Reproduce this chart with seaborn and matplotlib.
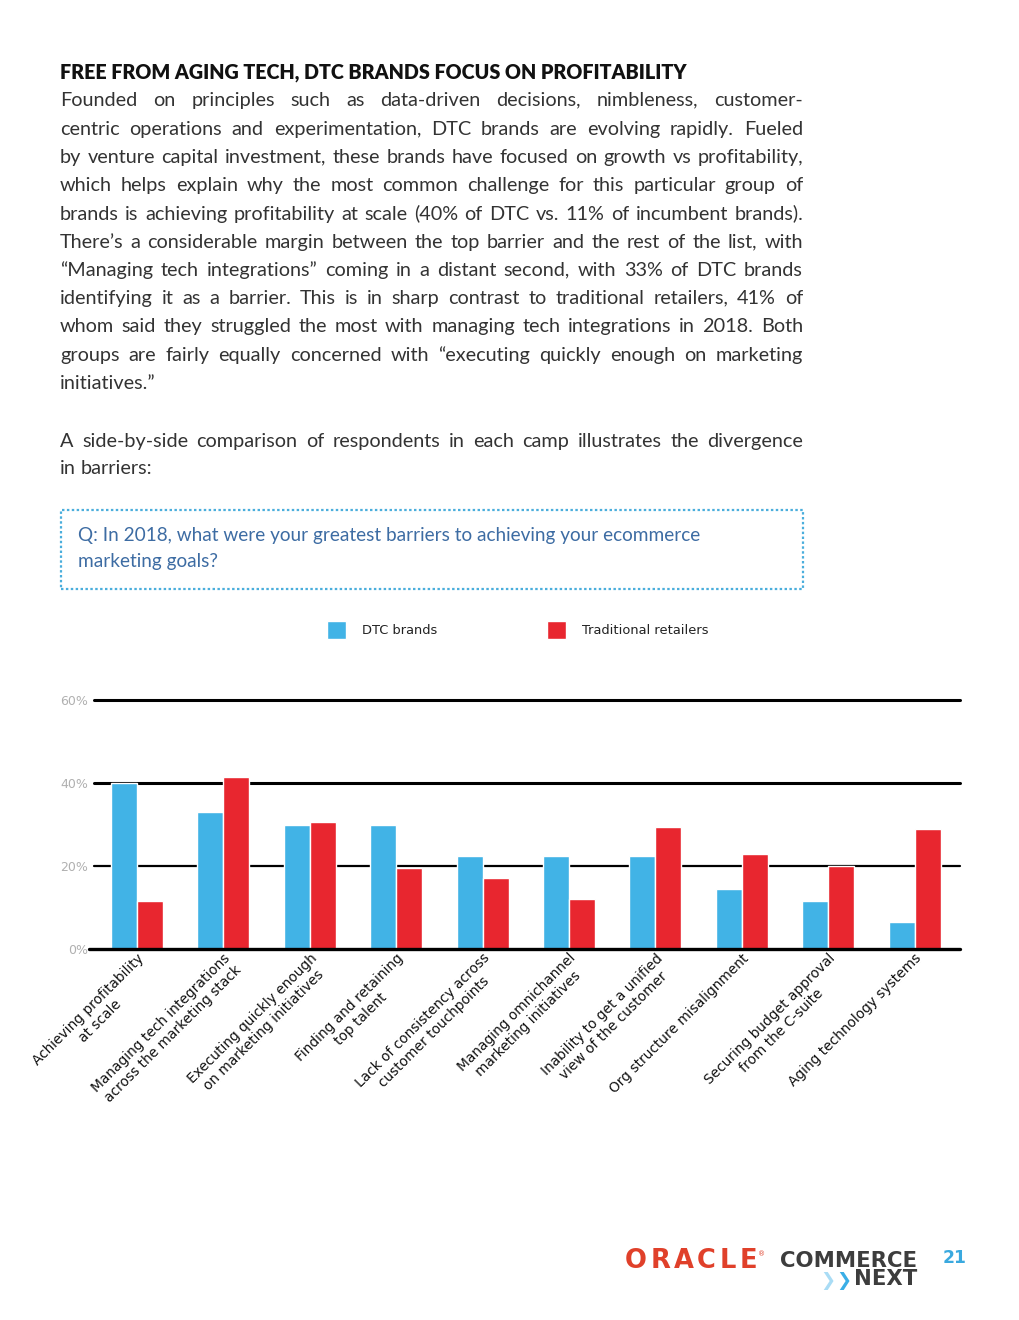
import math
import matplotlib
matplotlib.use("Agg")
import matplotlib.pyplot as plt
import seaborn as sns
import pandas as pd
from matplotlib.patches import Rectangle
from matplotlib.font_manager import FontProperties
from matplotlib.backends.backend_agg import get_hinting_flag

W, H = 1020, 1320

# ---------------- data ----------------
categories = [
    "Achieving profitability\nat scale",
    "Managing tech integrations\nacross the marketing stack",
    "Executing quickly enough\non marketing initiatives",
    "Finding and retaining\ntop talent",
    "Lack of consistency across\ncustomer touchpoints",
    "Managing omnichannel\nmarketing initiatives",
    "Inability to get a unified\nview of the customer",
    "Org structure misalignment",
    "Securing budget approval\nfrom the C-suite",
    "Aging technology systems",
]
dtc_values = [40, 33, 30, 30, 22.5, 22.5, 22.5, 14.5, 11.5, 6.5]
traditional_values = [11.5, 41.5, 30.5, 19.5, 17, 12, 29.5, 23, 20, 29]
series_names = ["DTC brands", "Traditional retailers"]
series_colors = ["#41b3e6", "#e8262f"]
y_ticks = [0, 20, 40, 60]
y_tick_labels = ["0%", "20%", "40%", "60%"]

title = "FREE FROM AGING TECH, DTC BRANDS FOCUS ON PROFITABILITY"
para1 = [
    "Founded on principles such as data-driven decisions, nimbleness, customer-",
    "centric operations and experimentation, DTC brands are evolving rapidly. Fueled",
    "by venture capital investment, these brands have focused on growth vs profitability,",
    "which helps explain why the most common challenge for this particular group of",
    "brands is achieving profitability at scale (40% of DTC vs. 11% of incumbent brands).",
    "There\u2019s a considerable margin between the top barrier and the rest of the list, with",
    "\u201cManaging tech integrations\u201d coming in a distant second, with 33% of DTC brands",
    "identifying it as a barrier. This is in sharp contrast to traditional retailers, 41% of",
    "whom said they struggled the most with managing tech integrations in 2018.  Both",
    "groups are fairly equally concerned with \u201cexecuting quickly enough on marketing",
    "initiatives.\u201d",
]
para2 = [
    "A side-by-side comparison of respondents in each camp illustrates the divergence",
    "in barriers:",
]
question_lines = [
    "Q: In 2018, what were your greatest barriers to achieving your ecommerce",
    "marketing goals?",
]
page_number = "21"

# ---------------- style ----------------
sns.set_theme(style="white")
plt.rcParams["font.family"] = ["DejaVu Sans"]

fig = plt.figure(figsize=(W / 100, H / 100), dpi=100)
fig.patch.set_facecolor("white")
renderer = fig.canvas.get_renderer()


def text_width(s, **kw):
    t = fig.text(0, 0, s, **kw)
    w = t.get_window_extent(renderer).width
    t.remove()
    return w


def fit_size(s, target, base=12, **kw):
    return base * target / text_width(s, fontsize=base, **kw)


def put(x, y, s, **kw):
    kw.setdefault("va", "baseline")
    return fig.text(x / W, 1 - y / H, s, **kw)


def snapped_baseline(word, R, family, size, weight="normal"):
    # keep every word of a line on the same pixel row
    prop = FontProperties(family=family, size=size, weight=weight)
    font = renderer._prepare_font(prop)
    font.set_text(word, 0, flags=get_hinting_flag())
    d = font.get_descent() / 64.0
    _, h = font.get_width_height()
    a = h / 64.0 - d
    return R + math.floor(a + d) - math.floor(a) - d


def justify(x0, x1, y, line, last=False, **kw):
    words = line.split()
    widths = [text_width(w, **kw) for w in words]
    if last or len(words) == 1:
        gap = text_width("a b", **kw) - text_width("ab", **kw)
    else:
        gap = (x1 - x0 - sum(widths)) / (len(words) - 1)
    R = round(y)
    x = x0
    for w, wd in zip(words, widths):
        yy = snapped_baseline(w, R, kw["family"], kw["fontsize"], kw.get("fontweight", "normal"))
        put(x, yy, w, **kw)
        x += wd + gap


# ---------------- header text ----------------
title_kw = dict(family="Lato", fontweight="heavy", color="#111111")
put(60, 79, title, fontsize=fit_size(title, 626, **title_kw), **title_kw)

body_kw = dict(family="Lato", color="#333333")
just_lines = para1[:-1] + para2[:-1]
maxw = max(text_width(l, fontsize=12, **body_kw) for l in just_lines)
body_kw["fontsize"] = 12 * 730 / maxw
for k, line in enumerate(para1):
    justify(60, 803, 106.5 + 28.25 * k, line, last=(k == len(para1) - 1), **body_kw)
for k, line in enumerate(para2):
    justify(60, 803, 447 + 27.5 * k, line, last=(k == len(para2) - 1), **body_kw)

# question box
fig.add_artist(Rectangle((61 / W, 1 - 589 / H), 742 / W, 79 / H, transform=fig.transFigure,
                         fill=False, edgecolor="#4aaedc", lw=1.6, linestyle=(0, (1.1, 1.1))))
q_kw = dict(family="Lato", fontweight="normal", color="#3d6ca3")
q_size = fit_size(question_lines[0], 620, **q_kw)
put(78, 541, question_lines[0], fontsize=q_size, **q_kw)
put(78, 567, question_lines[1], fontsize=q_size, **q_kw)

# ---------------- chart ----------------
df = pd.DataFrame({
    "barrier": categories * 2,
    "group": [series_names[0]] * len(categories) + [series_names[1]] * len(categories),
    "value": dtc_values + traditional_values,
})

ax = fig.add_axes([93.8 / W, 1 - 949 / H, 864 / W, 249 / H])
sns.barplot(data=df, x="barrier", y="value", hue="group", order=categories,
            hue_order=series_names, palette=series_colors, width=0.6, saturation=1,
            ax=ax, legend=True, zorder=3)
ax.set_xlim(-0.5, len(categories) - 0.5)
ax.set_ylim(0, 60)
ax.set_yticks(y_ticks, y_tick_labels)
ax.set_xticks(range(len(categories)))
ax.set_xticklabels(categories, rotation=45, ha="right", rotation_mode="anchor",
                   fontsize=9.9, color="#111111")
for lbl in ax.get_xticklabels():
    lbl.set_multialignment("center")
ax.tick_params(axis="x", length=0, pad=1.5)
ax.tick_params(axis="y", length=0, pad=4.2, labelsize=9, labelcolor="#b0b0b0")
ax.set_xlabel("")
ax.set_ylabel("")
for s in ax.spines.values():
    s.set_visible(False)
ax.grid(False)
for t, lw in zip(y_ticks, [2.4, 1.6, 2.2, 2.2]):
    xmin = -0.006 if t == 0 else 0
    ax.axhline(t, xmin=xmin, xmax=1.003, color="black", lw=lw,
               zorder=4 if t == 0 else 1, clip_on=False)

sns.move_legend(ax, "center left", bbox_to_anchor=(326.7 / W, 1 - 630 / H),
                bbox_transform=fig.transFigure, ncol=2, frameon=False, title=None,
                fontsize=9.4, handlelength=1.48, handleheight=1.79, handletextpad=1.2,
                columnspacing=8.4, borderpad=0, borderaxespad=0)
for t in ax.get_legend().get_texts():
    t.set_color("#222222")

# ---------------- footer ----------------
logo_kw = dict(family="DejaVu Sans", fontweight="bold")
oracle = "ORACLE"
o_size = 18.5
lw_ = [text_width(c, fontsize=o_size, **logo_kw) for c in oracle]
gap = (132 - sum(lw_)) / (len(oracle) - 1)
x = 625
for c, wd in zip(oracle, lw_):
    put(x, 1268.5, c, fontsize=o_size, color="#e0402a", **logo_kw)
    x += wd + gap
put(x - gap + 1, 1256, "\u00ae", fontsize=5, color="#e0402a", family="DejaVu Sans")

c_size = fit_size("COMMERCE", 137, **logo_kw)
put(780, 1266.7, "COMMERCE", fontsize=c_size, color="#3d3d3d", **logo_kw)
next_w = text_width("NEXT", fontsize=c_size, **logo_kw)
put(917, 1285, "NEXT", fontsize=c_size, color="#3d3d3d", ha="right", **logo_kw)
chev_size = 13
cw = text_width("\u276f", fontsize=chev_size, **logo_kw)
chev_end = 917 - next_w - 2
put(chev_end - 2 * cw - 1, 1285.5, "\u276f", fontsize=chev_size, color="#a9dcf5", **logo_kw)
put(chev_end - cw, 1285.5, "\u276f", fontsize=chev_size, color="#3aaee6", **logo_kw)
put(943, 1263.3, page_number, fontsize=12.4, color="#3aa9df", **logo_kw)

fig.savefig("out.png", dpi=100, facecolor="white")
